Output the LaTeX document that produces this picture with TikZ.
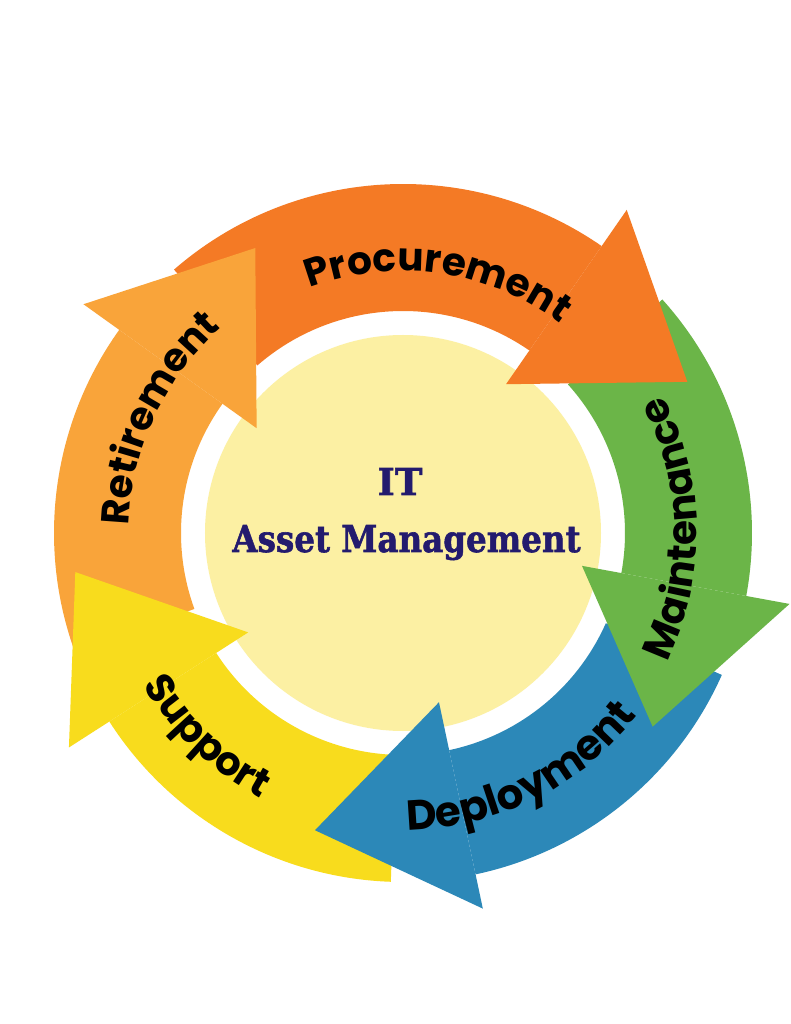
\documentclass[tikz,border=0pt]{standalone}
\usepackage{fontspec}
\newfontfamily\lblfont{Poppins}
\newfontfamily\ctrfont{DejaVu Serif}[BoldFeatures={FakeBold=1.6}]
\usetikzlibrary{decorations.text}
\definecolor{cProc}{HTML}{F47A25}
\definecolor{cRet}{HTML}{F9A43A}
\definecolor{cSupp}{HTML}{F8DC1D}
\definecolor{cDepl}{HTML}{2C88B8}
\definecolor{cMaint}{HTML}{6BB548}
\definecolor{paleY}{HTML}{FCF0A3}
\definecolor{navy}{HTML}{231B6E}
\newcommand\lblfmt[1]{\lblfont\bfseries\fontsize{#1}{44}\selectfont}
\begin{document}
\begin{tikzpicture}[x=1pt,y=1pt,
  lbl/.style 2 args={decorate, decoration={text along path, text align=center, text={|\lblfmt{#1}|#2}}},
  ctr/.style={text=navy, font=\ctrfont\bfseries\fontsize{37}{40}\selectfont, anchor=base, inner sep=0pt}]
\fill[white] (-403,-491) rectangle (387,533);
\useasboundingbox (-403,-491) rectangle (387,533);
% central disc
\node[circle, fill=paleY, minimum size=396pt, inner sep=0pt] (core) at (0,0) {};
% arrow bodies
\foreach \hc/\hta/\hba in {cProc/131/55.3, cMaint/42/-10.4, cDepl/-24/-78, cSupp/268/212.7, cRet/200/144.4}
  \fill[\hc] (\hta:349pt) arc[start angle=\hta, end angle=\hba, radius=349pt]
     -- (\hba:222pt) arc[start angle=\hba, end angle=\hta, radius=222pt] -- cycle;
% arrow heads
\foreach \hc/\hba/\htp/\htr/\hin/\hout in {cProc/55.3/28.0/322/181/393, cMaint/-10.4/-37.8/316/182/393, cDepl/-78/-106.5/310/173/384, cSupp/212.7/186.8/330/184/397, cRet/144.4/117.4/321/180/393}
  \fill[\hc] (\hba:\hin pt) -- (\hba:\hout pt) -- (\htp:\htr pt) -- cycle;
% labels
\path[lbl={39}{Procurement}] (122:262pt) arc[start angle=122, end angle=42, radius=262pt];
\path[lbl={39}{Retirement}] (195:274pt) arc[start angle=195, end angle=115, radius=274pt];
\path[lbl={40.5}{Maintenance}] (-39:294pt) arc[start angle=-39, end angle=41, radius=294pt];
\path[lbl={42}{Deployment}] (-103.5:297pt) arc[start angle=-103.5, end angle=-23.5, radius=297pt];
\path[lbl={40}{Support}] (186:301pt) arc[start angle=186, end angle=266, radius=301pt];
% centre title
\node[ctr] (it) at (-3,38) {IT};
\node[ctr] (am) at (3.5,-19) {\scalebox{0.88}[1]{Asset Management}};
\end{tikzpicture}
\end{document}
